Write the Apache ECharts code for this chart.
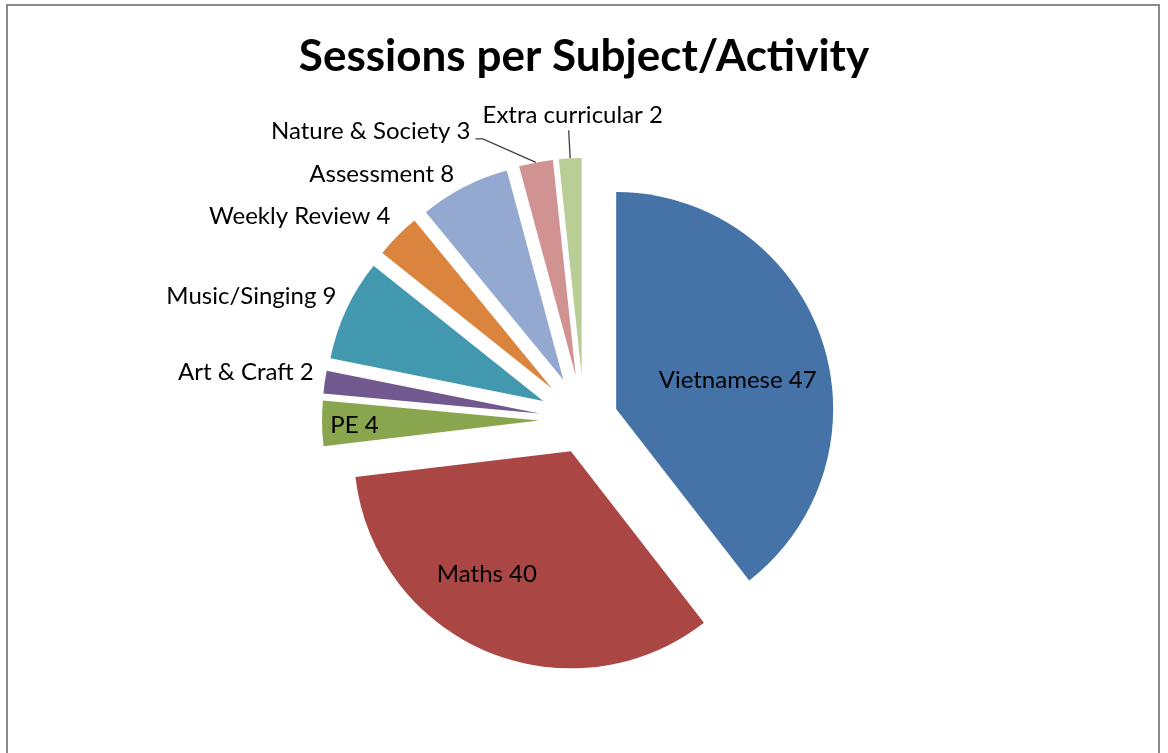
<!DOCTYPE html>
<html>
<head>
<meta charset="utf-8">
<script src="https://cdn.jsdelivr.net/npm/echarts@6/dist/echarts.min.js"></script>
<style>
html,body{margin:0;padding:0;background:#fff;overflow:hidden;}
#chart{width:1168px;height:753px;}
</style>
</head>
<body>
<div id="chart"></div>
<script>
// ---- data ----
const chartTitle = 'Sessions per Subject/Activity';
const categories = ['Vietnamese', 'Maths', 'PE', 'Art & Craft', 'Music/Singing', 'Weekly Review', 'Assessment', 'Nature & Society', 'Extra curricular'];
const sessions = [47, 40, 4, 2, 9, 4, 8, 3, 2];

// ---- style ----
const colors = ['#4572A7', '#AA4643', '#89A54E', '#71588F', '#4198AF', '#DB843D', '#93A9CF', '#D19392', '#B9CD96'];
const majorSlices = ['Vietnamese', 'Maths'];           // exploded a little less
const insideLabels = ['Vietnamese', 'Maths', 'PE'];
const leaderLines = {                                   // name -> [length, length2, minTurnAngle]
  'Nature & Society': [24, 56, 156],
  'Extra curricular': [28, 0, 90]
};
const labelShift = {                                    // name -> [dx, dy, align]
  'Vietnamese': [16, 7],
  'Maths': [-41, 20],
  'PE': [-73, 3],
  'Art & Craft': [-6, -10],
  'Music/Singing': [-5, -13],
  'Weekly Review': [-2, -20],
  'Assessment': [-5, -13],
  'Nature & Society': [0, -8],
  'Extra curricular': [9, -15, 'center']
};
const FONT = 'Lato, "Open Sans", sans-serif';

function buildSeries(major, offset) {
  return {
    type: 'pie',
    center: [584, 420],
    radius: [0, 217],
    startAngle: 90,
    clockwise: true,
    selectedMode: 'multiple',
    selectedOffset: offset,
    avoidLabelOverlap: false,
    silent: true,
    animation: false,
    itemStyle: { borderWidth: 0 },
    emphasis: { disabled: true },
    select: { itemStyle: { borderWidth: 0 } },
    label: {
      formatter: '{b} {c}',
      fontFamily: FONT,
      fontSize: 24,
      color: '#000'
    },
    labelLayout: function (p) {
      const s = labelShift[categories[p.dataIndex]] || [0, 0];
      const r = { dx: s[0], dy: s[1] };
      if (s[2]) r.align = s[2];
      return r;
    },
    data: categories.map(function (name, i) {
      const inGroup = (majorSlices.indexOf(name) >= 0) === major;
      const line = leaderLines[name];
      const inside = insideLabels.indexOf(name) >= 0;
      return {
        name: name,
        value: sessions[i],
        selected: inGroup,
        itemStyle: { color: inGroup ? colors[i] : 'rgba(0,0,0,0)', borderWidth: 0 },
        select: { itemStyle: { color: inGroup ? colors[i] : 'rgba(0,0,0,0)', borderWidth: 0 } },
        label: { show: inGroup, position: inside ? 'inside' : 'outside' },
        labelLine: {
          show: inGroup && !!line,
          length: line ? line[0] : 0,
          length2: line ? line[1] : 0,
          minTurnAngle: line ? line[2] : 90,
          lineStyle: { color: '#404040', width: 1.3 }
        }
      };
    })
  };
}

const chart = echarts.init(document.getElementById('chart'), null, { renderer: 'canvas' });
chart.setOption({
  backgroundColor: '#fff',
  animation: false,
  title: {
    text: chartTitle,
    left: 'center',
    top: 30,
    textStyle: { fontFamily: FONT, fontWeight: 'bold', fontSize: 44, color: '#000' }
  },
  graphic: [{
    type: 'rect',
    silent: true,
    shape: { x: 7, y: 5, width: 1152, height: 820 },
    style: { fill: 'none', stroke: '#8a8a8a', lineWidth: 2 }
  }],
  series: [buildSeries(true, 34), buildSeries(false, 45)]
});
</script>
</body>
</html>
